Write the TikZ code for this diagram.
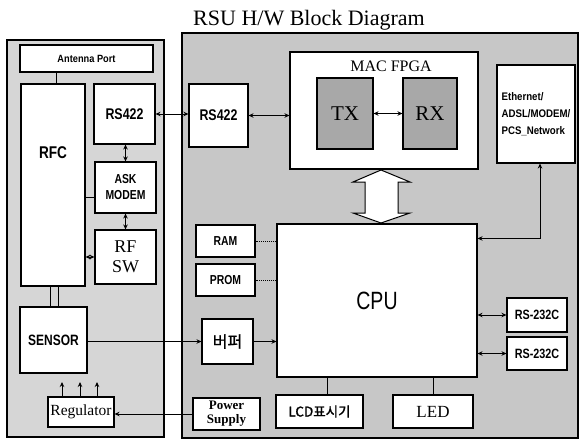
\documentclass[tikz,border=0pt]{standalone}
\usepackage{fontspec}
\setmainfont{Liberation Serif}
\newfontfamily\gsans[FakeStretch=0.8]{Liberation Sans}
\newfontfamily\gsansw[FakeStretch=0.88]{Liberation Sans}
\newfontfamily\krfont[FakeBold=1.5]{Noto Sans CJK KR}
\newfontfamily\cpufont[FakeStretch=0.78]{Liberation Sans}
\usetikzlibrary{arrows.meta,calc}
\definecolor{panelL}{gray}{0.84}
\definecolor{panelR}{gray}{0.78}
\definecolor{txrx}{gray}{0.66}
\tikzset{
  panel/.style={draw, line width=1.6pt, inner sep=0pt},
  box/.style={draw, line width=1.1pt, fill=white, inner sep=0pt},
  ln/.style={line width=0.9pt},
  dbl/.style={{Stealth[length=5pt,width=4.5pt]}-{Stealth[length=5pt,width=4.5pt]}, line width=0.9pt},
  one/.style={-{Stealth[length=5pt,width=4.5pt]}, line width=0.9pt},
  gb/.style={font=\gsans\bfseries\fontsize{#1}{#1}\selectfont},
}
\begin{document}
\begin{tikzpicture}[x=1pt,y=-1pt]
\useasboundingbox (0,0) rectangle (579,439);
\fill[white] (0,0) rectangle (579,439);

% title
\node[anchor=base, inner sep=0pt, font=\fontsize{22}{24}\selectfont] (title) at (309,26) {RSU H/W Block Diagram};

% panels
\node[panel, fill=panelL, minimum width=157pt, minimum height=397pt] (lp) at (85.5,238.5) {};
\node[panel, fill=panelR, minimum width=396pt, minimum height=405pt] (rp) at (380,235.5) {};

% big hollow double arrow between MAC FPGA and CPU
\draw[line width=1pt, fill=white] (381,170) -- (353,182) -- (365,182) -- (365,213) -- (353,213) -- (381,223) -- (410,213) -- (398,213) -- (398,182) -- (410,182) -- cycle;

% left panel boxes
\node[box, minimum width=133pt, minimum height=27pt, font=\gsansw\bfseries\fontsize{10.5}{10}\selectfont] (ant) at (86.5,58.5) {Antenna Port};
\node[box, minimum width=64pt, minimum height=202pt] (rfc) at (53,185) {};
\node[inner sep=0pt, gb=17] (rfctext) at (53,153) {RFC};
\node[box, minimum width=61pt, minimum height=60pt, gb=15.5] (rsL) at (124.5,114) {RS422};
\node[box, minimum width=61pt, minimum height=51pt, align=center, font=\gsans\bfseries\fontsize{13}{16}\selectfont] (ask) at (125.5,187.5) {ASK\\MODEM};
\node[box, minimum width=61pt, minimum height=54pt, align=center, font=\fontsize{18}{20}\selectfont] (rfsw) at (125.5,257) {RF\\SW};
\node[box, minimum width=67pt, minimum height=66pt, gb=15] (sensor) at (53.5,340) {SENSOR};
\node[box, minimum width=66pt, minimum height=30pt, font=\fontsize{15.5}{17}\selectfont] (reg) at (81,412) {Regulator};

% right panel boxes
\node[box, minimum width=59pt, minimum height=63pt, gb=15.5] (rsR) at (218.5,115.5) {RS422};
\node[box, minimum width=188pt, minimum height=117pt] (mac) at (384,110.5) {};
\node[inner sep=0pt, font=\fontsize{16}{17}\selectfont] (mactext) at (391,66) {MAC FPGA};
\node[box, fill=txrx, minimum width=56pt, minimum height=71pt, font=\fontsize{21}{22}\selectfont] (tx) at (345,113.5) {TX};
\node[box, fill=txrx, minimum width=54pt, minimum height=71pt, font=\fontsize{21}{22}\selectfont] (rx) at (430,113.5) {RX};
\node[box, minimum width=78pt, minimum height=98pt, align=left, font=\gsansw\bfseries\fontsize{11}{17}\selectfont] (eth) at (536,114) {Ethernet/\\ADSL/MODEM/\\PCS\_Network};
\node[box, minimum width=59pt, minimum height=32pt, gb=13] (ram) at (225.5,241) {RAM};
\node[box, minimum width=59pt, minimum height=32pt, gb=13] (prom) at (225.5,280) {PROM};
\node[box, minimum width=51pt, minimum height=45pt, font=\krfont\fontsize{16}{17}\selectfont] (buf) at (227.5,341.5) {버퍼};
\node[box, minimum width=200pt, minimum height=153pt, font=\cpufont\fontsize{25}{26}\selectfont] (cpu) at (377,300.5) {CPU};
\node[box, minimum width=60pt, minimum height=34pt, gb=13.5] (rsa) at (537,315) {RS-232C};
\node[box, minimum width=60pt, minimum height=33pt, gb=13.5] (rsb) at (537,353.5) {RS-232C};
\node[box, minimum width=67pt, minimum height=32pt, align=center, font=\bfseries\fontsize{13}{14}\selectfont] (ps) at (226.5,414) {Power\\Supply};
\node[box, minimum width=87pt, minimum height=33pt, font=\krfont\fontsize{13.5}{15}\selectfont] (lcd) at (319.5,411.5) {LCD표시기};
\node[box, minimum width=80pt, minimum height=33pt, font=\fontsize{17}{19}\selectfont] (led) at (433,411.5) {LED};

% connectors, left panel
\draw[ln] ([xshift=3pt]rfc.north) -- ([xshift=3pt]rfc.north |- ant.south);
\draw[dbl] (ask.north) -- (ask.north |- rsL.south);
\draw[dbl] (ask.south) -- (ask.south |- rfsw.north);
\draw[ln] (ask.197) -- (ask.197 -| rfc.east);
\draw[dbl] (rfsw.west) -- (rfsw.west -| rfc.east);
\draw[ln] ([xshift=-3.5pt]sensor.north) -- ([xshift=-3.5pt]sensor.north |- rfc.south);
\draw[ln] ([xshift=4.5pt]sensor.north) -- ([xshift=4.5pt]sensor.north |- rfc.south);
\coordinate (u1) at (62,382);
\coordinate (u2) at (80,382);
\coordinate (u3) at (97,382);
\draw[one] (u1 |- reg.north) -- (u1);
\draw[one] (u2 |- reg.north) -- (u2);
\draw[one] (u3 |- reg.north) -- (u3);

% connectors between panels and right panel
\draw[dbl] (rsL.east) -- (rsL.east -| rsR.west);
\draw[dbl] (rsR.east) -- (rsR.east -| mac.west);
\draw[dbl] (tx.east) -- (rx.west);
\draw[one] (buf.west -| sensor.east) -- (buf.west);
\draw[one] (buf.east) -- (buf.east -| cpu.west);
\draw[ln, densely dotted] (ram.east) -- (ram.east -| cpu.west);
\draw[ln, densely dotted] (prom.east) -- (prom.east -| cpu.west);
\draw[one] (ps.west) -- (ps.west -| reg.east);
\draw[ln] ([xshift=7.5pt]lcd.north) -- ([xshift=7.5pt]lcd.north |- cpu.south);
\draw[ln] (led.north) -- (led.north |- cpu.south);
\draw[dbl] (rsa.west) -- (rsa.west -| cpu.east);
\draw[dbl] (rsb.west) -- (rsb.west -| cpu.east);
\draw[dbl] ([yshift=-15pt]cpu.north east) -| ([xshift=4pt]eth.south);
\end{tikzpicture}
\end{document}
